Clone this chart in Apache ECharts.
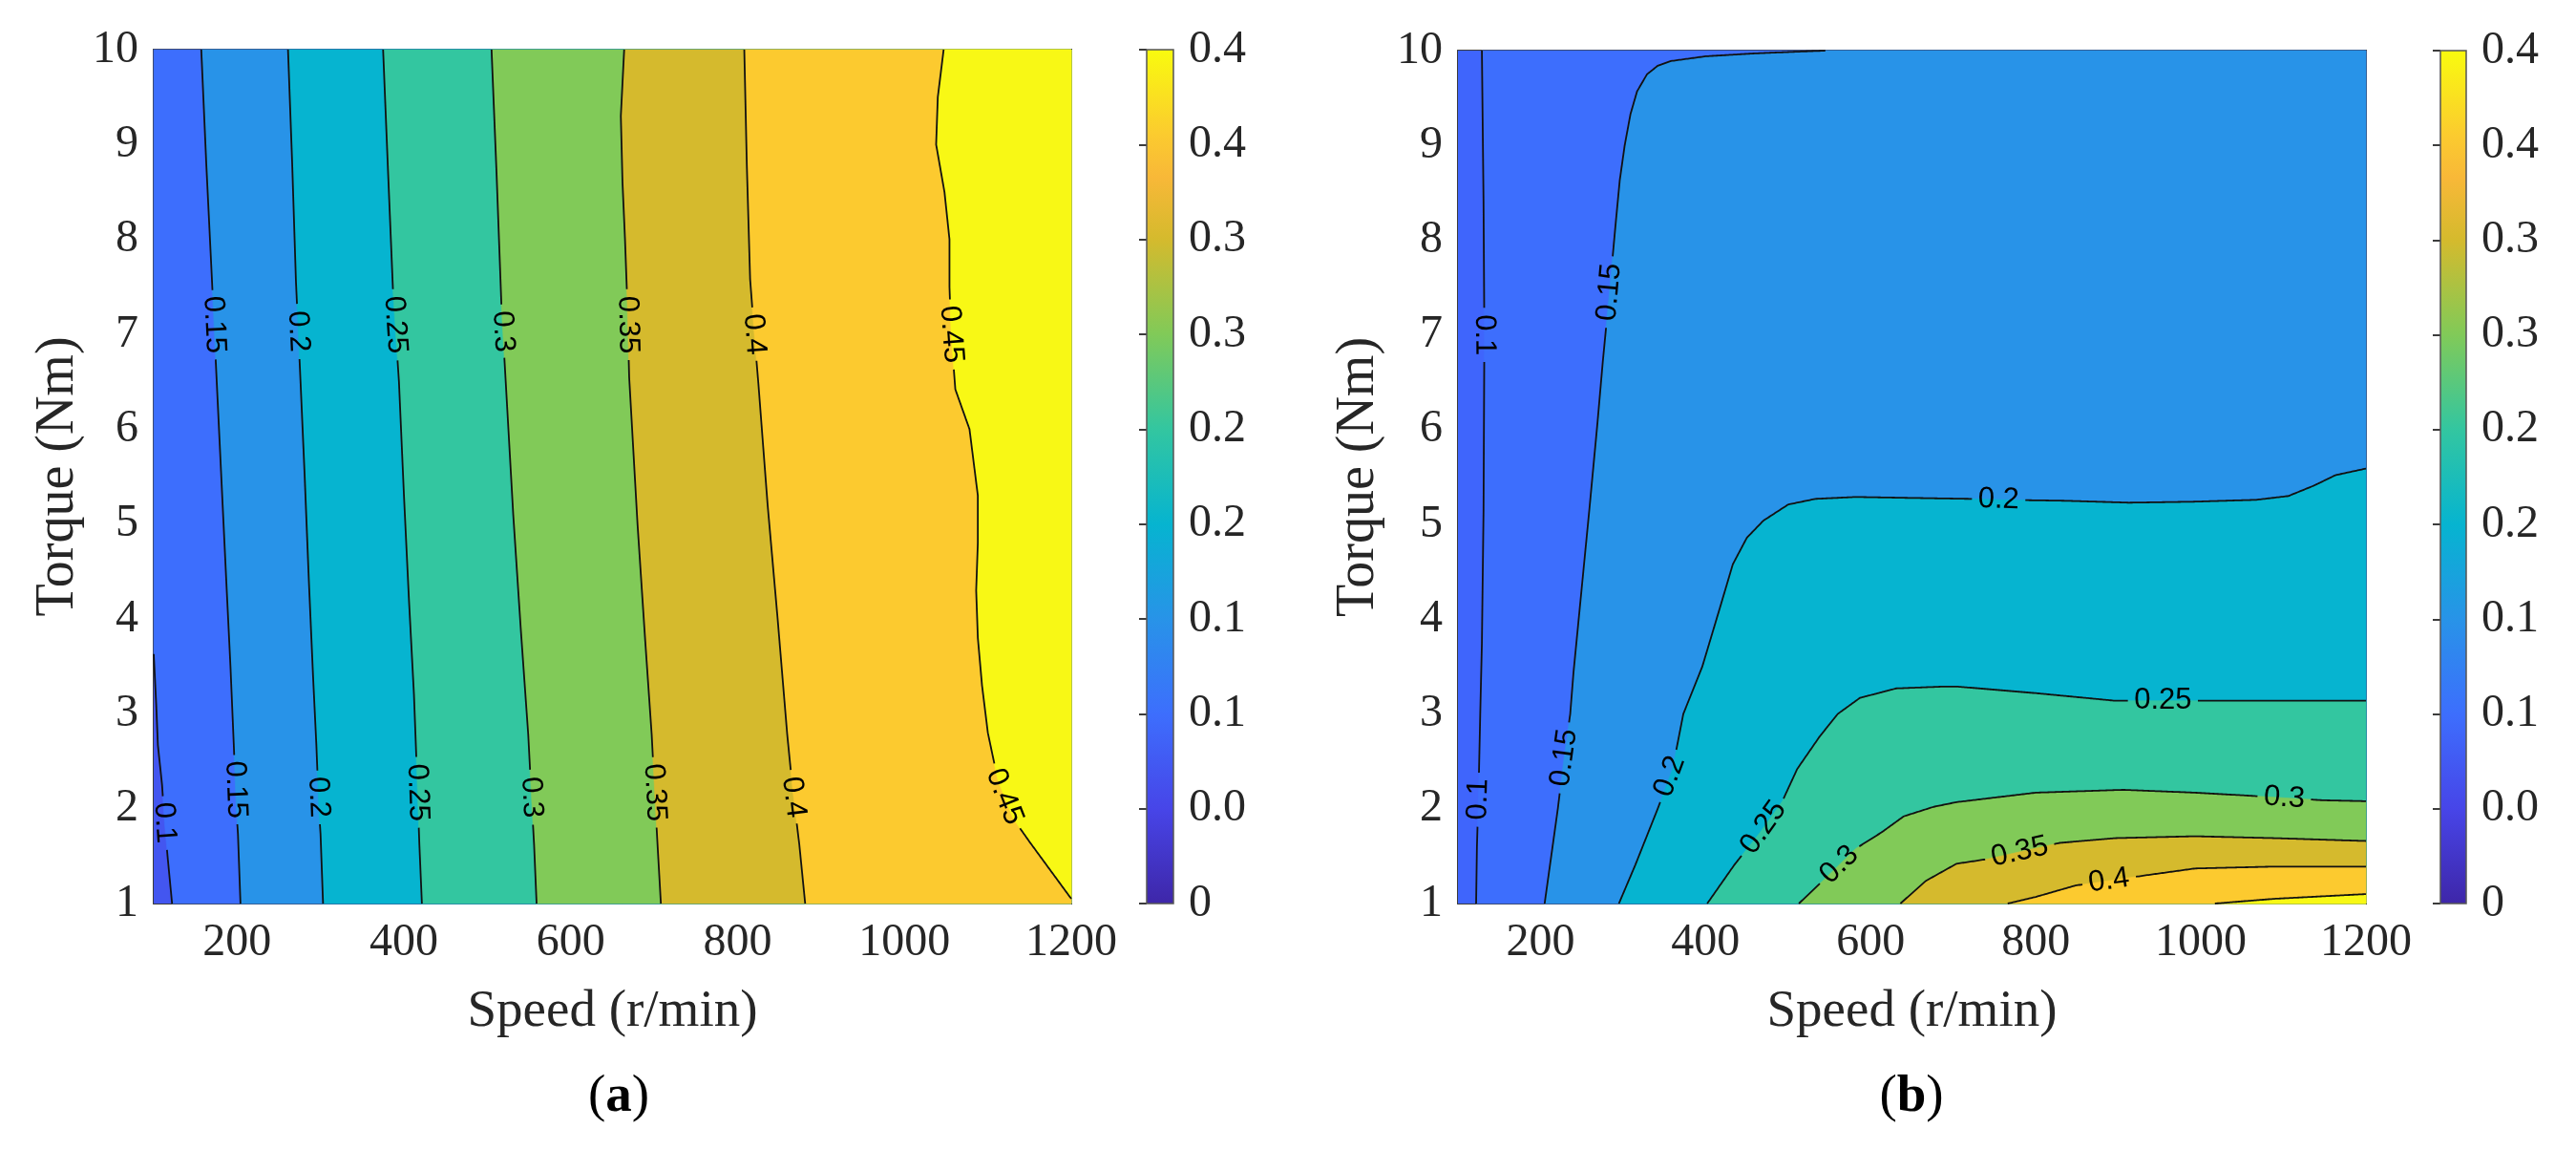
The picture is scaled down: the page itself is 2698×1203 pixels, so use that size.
<!DOCTYPE html>
<html>
<head>
<meta charset="utf-8">
<script src="https://cdn.jsdelivr.net/npm/echarts@6/dist/echarts.min.js"></script>
<style>
  html, body { margin: 0; padding: 0; background: #fff; }
  #main { width: 2698px; height: 1203px; }
</style>
</head>
<body>
<div id="main"></div>
<script>
// axis ranges and ticks
var speedRange = [100, 1200];
var torqueRange = [1, 10];
var speedTicks = [200, 400, 600, 800, 1000, 1200];
var levels = [0.1, 0.15, 0.2, 0.25, 0.3, 0.35, 0.4, 0.45];
var cbMax = 0.45;
var cbStep = 0.05;
var cbLabels = ["0", "0.0", "0.1", "0.1", "0.2", "0.2", "0.3", "0.3", "0.4", "0.4"];

// (a) contour lines, [speed, torque] (top -> bottom)
var a010 = [[100, 3.63], [103, 3.1], [105, 2.67], [110, 2.25], [113, 1.85], [117, 1.46], [122, 1.0]];
var a015 = [[157, 10], [163, 8.8], [169.5, 7.63], [175, 6.6], [181, 5.5], [187, 4.4], [192, 3.5], [196, 2.67], [199, 2.0], [201, 1.73], [204, 1.0]];
var a020 = [[261, 10], [266, 8.8], [270.5, 7.56], [276, 6.5], [281, 5.5], [286, 4.4], [291, 3.4], [295, 2.67], [298, 2.0], [300, 1.73], [303, 1.0]];
var a025 = [[375, 10], [381, 8.7], [387, 7.43], [394, 6.5], [400, 5.3], [406, 4.2], [412, 3.2], [415, 2.5], [418.5, 1.62], [421.5, 1.0]];
var a030 = [[505, 10], [511, 8.7], [517, 7.27], [522, 6.5], [531, 5.1], [540, 3.9], [549, 2.78], [553, 2.1], [556, 1.62], [559, 1.0]];
var a035 = [[664, 10], [660, 9.3], [662, 8.6], [665, 8.0], [667.5, 7.4], [670, 6.55], [680, 5.0], [689, 3.8], [697, 2.78], [701, 2.1], [704, 1.62], [708, 1.0]];
var a040 = [[808, 10], [811, 8.8], [815, 7.58], [820, 7.0], [825, 6.47], [836, 5.2], [848, 4.0], [859.5, 2.78], [866, 2.2], [874, 1.62], [881, 1.0]];
var a045 = [[1047, 10], [1040, 9.5], [1038, 9.0], [1048, 8.5], [1054, 8.0], [1054, 7.5], [1056, 7.0], [1061, 6.42], [1078, 6.0], [1088, 5.3], [1088, 4.8], [1086, 4.3], [1088, 3.8], [1093, 3.3], [1100, 2.8], [1112, 2.3], [1130, 1.9], [1150, 1.65], [1175, 1.35], [1200, 1.05]];

// (b) contour lines
var b010 = [[129, 10], [131, 8.4], [132, 7.0], [131, 5.14], [129, 3.74], [127, 3.0], [125, 2.2], [123, 1.6], [122, 1.0]];
var b015 = [[545, 10], [500, 9.985], [458, 9.97], [400, 9.94], [358, 9.89], [342, 9.84], [329, 9.75], [317, 9.57], [309, 9.33], [302, 9.0], [296, 8.63], [291, 8.17], [283, 7.4], [275.5, 6.72], [269, 6.07], [259, 5.14], [248.5, 4.2], [240, 3.44], [236, 3.0], [228, 2.5], [221, 2.0], [213, 1.5], [205, 1.0]];
var b020 = [[1200, 5.59], [1163, 5.52], [1137, 5.41], [1106, 5.30], [1067, 5.26], [990, 5.24], [913, 5.23], [837, 5.25], [760, 5.26], [721, 5.27], [649, 5.28], [582, 5.29], [533, 5.27], [500, 5.21], [470, 5.04], [450, 4.86], [433, 4.58], [417, 4.11], [396, 3.5], [373, 3.0], [360, 2.42], [342, 2.0], [315, 1.41], [295, 1.0]];
var b025 = [[1200, 3.14], [1100, 3.14], [1012, 3.14], [896, 3.14], [800, 3.22], [704, 3.29], [690, 3.29], [631, 3.27], [587, 3.17], [560, 3.0], [538, 2.76], [511, 2.42], [493, 2.08], [466, 1.75], [435, 1.41], [402, 1.0]];
var b030 = [[1200, 2.08], [1147, 2.09], [1055, 2.14], [993, 2.17], [906, 2.2], [800, 2.17], [704, 2.07], [676, 2.02], [640, 1.92], [613, 1.75], [582, 1.58], [542, 1.24], [513, 1.0]];
var b035 = [[1200, 1.66], [1089, 1.69], [993, 1.71], [896, 1.69], [829, 1.64], [742, 1.47], [704, 1.42], [667, 1.24], [636, 1.0]];
var b040 = [[1200, 1.39], [1089, 1.39], [993, 1.37], [935, 1.3], [848, 1.19], [800, 1.07], [766, 1.0]];
var b045 = [[1200, 1.1], [1089, 1.05], [1017, 1.0]];

// contour labels: [level, speed, torque]
var labelsA = [[0.1, 111, 1.85], [0.15, 170, 7.1], [0.15, 199, 2.2], [0.2, 272, 7.03], [0.2, 297, 2.12],
  [0.25, 390, 7.1], [0.25, 416, 2.17], [0.3, 520, 7.03], [0.3, 552, 2.12], [0.35, 668, 7.1], [0.35, 701, 2.17],
  [0.4, 820, 7.0], [0.4, 866, 2.12], [0.45, 1057, 7.0], [0.45, 1118, 2.12]];
var labelsB = [[0.1, 131, 7.0], [0.1, 124, 2.1], [0.15, 286, 7.45], [0.15, 235, 2.53], [0.2, 755, 5.25], [0.2, 357, 2.34],
  [0.25, 954, 3.13], [0.25, 469, 1.81], [0.3, 1101, 2.11], [0.3, 562, 1.41], [0.35, 781, 1.53], [0.4, 889, 1.22]];

var linesA = [a010, a015, a020, a025, a030, a035, a040, a045];
var linesB = [b010, b015, b020, b025, b030, b035, b040, b045];

// colours (lowest region first)
var fillA = ["#4356F0", "#3D6EFD", "#2893E8", "#06B4D0", "#33C6A0", "#81CA58", "#D5BA2D", "#FCCA2F", "#F8F815"];
var fillB = ["#3F65FC", "#3D6EFD", "#2893E8", "#06B4D0", "#33C6A0", "#81CA58", "#D5BA2D", "#FCCA2F", "#F8F815"];
var parula = [[0, "#3E26A8"], [0.111, "#4745E8"], [0.222, "#3D6EFD"], [0.333, "#2893E8"], [0.444, "#06B4D0"],
  [0.556, "#33C6A0"], [0.667, "#81CA58"], [0.778, "#D5BA2D"], [0.85, "#F8B838"], [0.9, "#FBCB2F"], [1, "#F9FB0E"]];

var serif = "'Liberation Serif', 'Times New Roman', serif";
var sans = "'Liberation Sans', Arial, sans-serif";
var textColor = "#262626";
var boxColor = "#3c3c3c";
var labelFont = 31;

var measureCtx = document.createElement("canvas").getContext("2d");
function textWidth(s) {
  measureCtx.font = labelFont + "px " + sans;
  return measureCtx.measureText(s).width;
}

// position along the plot border, counter-clockwise from bottom-left (0..4)
function borderPos(p) {
  var x = p[0], y = p[1], e = 1e-6;
  var w = speedRange[1] - speedRange[0], h = torqueRange[1] - torqueRange[0];
  if (Math.abs(y - torqueRange[0]) < e) return (x - speedRange[0]) / w;
  if (Math.abs(x - speedRange[1]) < e) return 1 + (y - torqueRange[0]) / h;
  if (Math.abs(y - torqueRange[1]) < e) return 2 + (speedRange[1] - x) / w;
  return 3 + (torqueRange[1] - y) / h;
}
var corners = [[speedRange[0], torqueRange[0]], [speedRange[1], torqueRange[0]],
  [speedRange[1], torqueRange[1]], [speedRange[0], torqueRange[1]]];

// region above the level lies to the left of the line direction, so close it CCW
function closeRegion(line) {
  var tEnd = borderPos(line[line.length - 1]);
  var tStart = borderPos(line[0]);
  if (tStart <= tEnd) tStart += 4;
  var out = [];
  for (var k = Math.floor(tEnd) + 1; k < tStart - 1e-6; k++) out.push(corners[k % 4]);
  return line.concat(out);
}

function placeLabel(px, target, text) {
  var best = null;
  for (var i = 0; i < px.length - 1; i++) {
    var a = px[i], b = px[i + 1];
    var dx = b[0] - a[0], dy = b[1] - a[1];
    var len2 = dx * dx + dy * dy;
    var t = len2 ? ((target[0] - a[0]) * dx + (target[1] - a[1]) * dy) / len2 : 0;
    t = Math.max(0, Math.min(1, t));
    var qx = a[0] + t * dx, qy = a[1] + t * dy;
    var d = Math.hypot(target[0] - qx, target[1] - qy);
    if (!best || d < best.d) best = { d: d, x: qx, y: qy, dx: dx, dy: dy };
  }
  var ang = Math.atan2(-best.dy, best.dx);
  if (ang > Math.PI / 2) ang -= Math.PI;
  if (ang <= -Math.PI / 2) ang += Math.PI;
  return { x: best.x, y: best.y, rot: ang, text: text, r: textWidth(text) / 2 + 6 };
}

// split the pixel polyline where it runs under a label
function pieces(px, labs) {
  var segs = [], cur = [];
  function keep(p) {
    for (var j = 0; j < labs.length; j++) {
      if (Math.hypot(p[0] - labs[j].x, p[1] - labs[j].y) < labs[j].r) return false;
    }
    return true;
  }
  for (var i = 0; i < px.length - 1; i++) {
    var a = px[i], b = px[i + 1];
    var n = Math.max(1, Math.ceil(Math.hypot(b[0] - a[0], b[1] - a[1]) / 1.5));
    for (var s = (i === 0 ? 0 : 1); s <= n; s++) {
      var p = [a[0] + (b[0] - a[0]) * s / n, a[1] + (b[1] - a[1]) * s / n];
      if (keep(p)) cur.push(p);
      else { if (cur.length > 1) segs.push(cur); cur = []; }
    }
  }
  if (cur.length > 1) segs.push(cur);
  return segs;
}

function contourRender(lines, labels, fills) {
  return function (params, api) {
    var children = [];
    var bl = api.coord([speedRange[0], torqueRange[0]]);
    var tr = api.coord([speedRange[1], torqueRange[1]]);
    children.push({ type: "rect", shape: { x: bl[0], y: tr[1], width: tr[0] - bl[0], height: bl[1] - tr[1] },
      style: { fill: fills[0] } });
    lines.forEach(function (line, i) {
      var poly = closeRegion(line).map(function (p) { return api.coord(p); });
      children.push({ type: "polygon", shape: { points: poly },
        style: { fill: fills[i + 1], stroke: fills[i + 1], lineWidth: 0.6 } });
    });
    lines.forEach(function (line, i) {
      var px = line.map(function (p) { return api.coord(p); });
      var labs = labels.filter(function (l) { return l[0] === levels[i]; }).map(function (l) {
        return placeLabel(px, api.coord([l[1], l[2]]), String(levels[i]));
      });
      pieces(px, labs).forEach(function (seg) {
        children.push({ type: "polyline", shape: { points: seg },
          style: { stroke: "#111", lineWidth: 1.8, fill: null } });
      });
      labs.forEach(function (lb) {
        children.push({ type: "text", x: lb.x, y: lb.y, rotation: lb.rot,
          style: { text: lb.text, fill: "#000", fontSize: labelFont, fontFamily: sans,
            align: "center", verticalAlign: "middle" } });
      });
    });
    return { type: "group", children: children };
  };
}

function colorbarRender(params, api) {
  var p0 = api.coord([0, 0]);
  var p1 = api.coord([1, cbMax]);
  var stops = parula.map(function (s) { return { offset: 1 - s[0], color: s[1] }; }).reverse();
  return {
    type: "rect",
    shape: { x: p0[0], y: p1[1], width: p1[0] - p0[0], height: p0[1] - p1[1] },
    style: { fill: new echarts.graphic.LinearGradient(0, 0, 0, 1, stops), stroke: "#555", lineWidth: 1.5 }
  };
}

function xAxes(grid) {
  var base = {
    gridIndex: grid, type: "value", min: speedRange[0], max: speedRange[1],
    axisLine: { show: true, onZero: false, lineStyle: { color: boxColor, width: 2 } },
    axisTick: { show: true, inside: true, length: 13, customValues: speedTicks, lineStyle: { color: boxColor, width: 2 } },
    splitLine: { show: false }
  };
  var bottom = echarts.util.merge({
    position: "bottom", name: "Speed (r/min)", nameLocation: "middle", nameGap: 86,
    nameTextStyle: { fontFamily: serif, fontSize: 55, color: textColor },
    axisLabel: { customValues: speedTicks, margin: 17, fontFamily: serif, fontSize: 48, color: textColor,
      formatter: function (v) { return String(v); } }
  }, base, false);
  var top = echarts.util.merge({ position: "top", axisLabel: { show: false } }, echarts.util.clone(base), false);
  return [bottom, top];
}

function yAxes(grid, nameGap) {
  var base = {
    gridIndex: grid, type: "value", min: torqueRange[0], max: torqueRange[1], interval: 1,
    axisLine: { show: true, onZero: false, lineStyle: { color: boxColor, width: 2 } },
    axisTick: { show: true, inside: true, length: 13, lineStyle: { color: boxColor, width: 2 } },
    splitLine: { show: false }
  };
  var left = echarts.util.merge({
    position: "left", name: "Torque (Nm)", nameLocation: "middle", nameGap: nameGap, nameRotate: 90,
    nameTextStyle: { fontFamily: serif, fontSize: 56, color: textColor },
    axisLabel: { margin: 16, fontFamily: serif, fontSize: 48, color: textColor }
  }, base, false);
  var right = echarts.util.merge({ position: "right", axisLabel: { show: false } }, echarts.util.clone(base), false);
  return [left, right];
}

function cbX(grid) {
  return { gridIndex: grid, type: "value", min: 0, max: 1, show: false };
}
function cbY(grid) {
  return {
    gridIndex: grid, type: "value", min: 0, max: cbMax, interval: cbStep, position: "right",
    axisLine: { show: false },
    axisTick: { show: true, inside: true, length: 8, lineStyle: { color: boxColor, width: 2 } },
    axisLabel: { margin: 16, fontFamily: serif, fontSize: 48, color: textColor,
      formatter: function (v) { return cbLabels[Math.round(v / cbStep)]; } },
    splitLine: { show: false }
  };
}

var chart = echarts.init(document.getElementById("main"), null, { renderer: "canvas" });

var option = {
  backgroundColor: "#ffffff",
  animation: false,
  grid: [
    { left: 161, top: 52, width: 961, height: 894, containLabel: false },
    { left: 1527, top: 53, width: 951, height: 893, containLabel: false },
    { left: 1201, top: 52, width: 28, height: 894, containLabel: false },
    { left: 2556, top: 53, width: 27, height: 893, containLabel: false }
  ],
  xAxis: xAxes(0).concat(xAxes(1)).concat([cbX(2), cbX(3)]),
  yAxis: yAxes(0, 72).concat(yAxes(1, 76)).concat([cbY(2), cbY(3)]),
  series: [
    { type: "custom", xAxisIndex: 0, yAxisIndex: 0, data: [[0]], silent: true,
      renderItem: contourRender(linesA, labelsA, fillA) },
    { type: "custom", xAxisIndex: 2, yAxisIndex: 2, data: [[0]], silent: true,
      renderItem: contourRender(linesB, labelsB, fillB) },
    { type: "custom", xAxisIndex: 4, yAxisIndex: 4, data: [[0]], silent: true, renderItem: colorbarRender },
    { type: "custom", xAxisIndex: 5, yAxisIndex: 5, data: [[0]], silent: true, renderItem: colorbarRender }
  ],
  graphic: [
    { type: "text", x: 648, y: 1149, style: { text: "{n|(}{b|a}{n|)}", align: "center", verticalAlign: "middle",
      rich: { n: { fontFamily: serif, fontSize: 55, fill: "#000" }, b: { fontFamily: serif, fontSize: 55, fontWeight: "bold", fill: "#000" } } } },
    { type: "text", x: 2002, y: 1149, style: { text: "{n|(}{b|b}{n|)}", align: "center", verticalAlign: "middle",
      rich: { n: { fontFamily: serif, fontSize: 55, fill: "#000" }, b: { fontFamily: serif, fontSize: 55, fontWeight: "bold", fill: "#000" } } } }
  ]
};

chart.setOption(option);
</script>
</body>
</html>
